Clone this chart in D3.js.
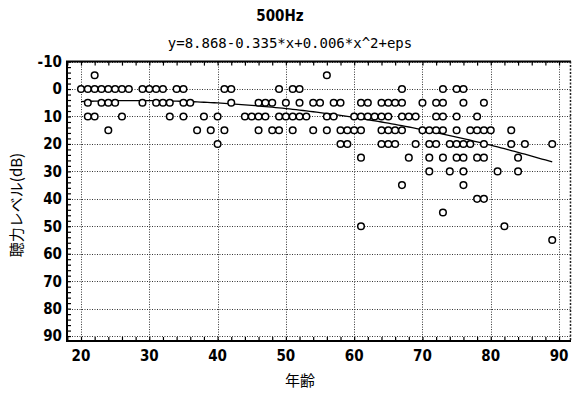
<!DOCTYPE html>
<html><head><meta charset="utf-8">
<script src="https://cdn.jsdelivr.net/npm/d3@7"></script>
<style>
html,body{margin:0;padding:0;background:#fff;}
svg{display:block;}
</style></head>
<body>
<script>
// ---- data ----
const title = "500Hz";
const subtitle = "y=8.868-0.335*x+0.006*x^2+eps";
const xLabel = "年齢";
const yLabel = "聴力レベル(dB)";
const xTicks = [20, 30, 40, 50, 60, 70, 80, 90];
const yTicks = [-10, 0, 10, 20, 30, 40, 50, 60, 70, 80, 90];
const hearingLevels = [-5, 0, 5, 10, 15, 20, 25, 30, 35, 40, 45, 50, 55];
const agesAtLevel = [
  [22, 56],
  [20, 21, 22, 23, 24, 25, 26, 27, 29, 30, 31, 32, 34, 35, 41, 42, 49, 51, 52, 67, 73, 75, 76],
  [21, 23, 24, 25, 29, 31, 32, 33, 35, 36, 42, 46, 47, 48, 50, 52, 54, 55, 57, 58, 61, 62, 64, 65, 66, 67, 70, 72, 73, 76, 79],
  [21, 22, 26, 33, 35, 38, 40, 44, 45, 46, 47, 49, 50, 51, 52, 53, 56, 57, 60, 61, 62, 63, 64, 65, 67, 68, 69, 72, 73, 75, 78],
  [24, 37, 39, 41, 46, 48, 49, 51, 54, 56, 58, 59, 60, 61, 64, 65, 66, 67, 70, 71, 72, 73, 75, 77, 78, 79, 80, 83],
  [40, 58, 59, 64, 65, 66, 69, 71, 72, 74, 75, 76, 77, 79, 83, 85, 89],
  [61, 68, 71, 73, 75, 76, 78, 79, 84],
  [71, 74, 76, 81, 84],
  [67, 76],
  [78, 79],
  [73],
  [61, 82],
  [89]
];
// fitted model coefficients (from subtitle) and fitted age range
const fitCoef = [8.868, -0.335, 0.006];
const fitAgeRange = [20, 89];

// ---- layout ----
const W = 573, H = 396;
const L = 67, R = 571, T = 61.6, B = 341;
const svg = d3.select("body").append("svg").attr("width", W).attr("height", H);

const x = d3.scaleLinear().domain([17.95, 91.75]).range([L, R]);
const y = d3.scaleLinear().domain([-10, 91.8]).range([T, B]);

const fontNum = "'DejaVu Sans Condensed', 'DejaVu Sans', sans-serif";
const fontJP = "'Noto Sans CJK JP', sans-serif";

// grid
const grid = svg.append("g").attr("stroke", "#333").attr("stroke-width", 1).attr("stroke-dasharray", "1,1.5");
grid.selectAll("line.gx").data(xTicks).join("line")
  .attr("x1", d => Math.round(x(d)) + 0.5).attr("x2", d => Math.round(x(d)) + 0.5)
  .attr("y1", T).attr("y2", B);
grid.selectAll("line.gy").data(yTicks).join("line")
  .attr("y1", d => Math.round(y(d)) + 0.5).attr("y2", d => Math.round(y(d)) + 0.5)
  .attr("x1", L).attr("x2", R);

// axes with inward minor ticks
const minorX = d3.range(18, 92, 2);
const minorY = d3.range(-10, 92, 2);
const axB = d3.axisBottom(x).tickValues(minorX).tickSize(-4).tickFormat("");
const axT = d3.axisTop(x).tickValues(minorX).tickSize(-4).tickFormat("");
const axL = d3.axisLeft(y).tickValues(minorY).tickSize(-4).tickFormat("");
[[axB, `translate(0,${B})`], [axT, `translate(0,${T})`], [axL, `translate(${L},0)`]].forEach(([a, tr]) => {
  const g = svg.append("g").attr("transform", tr).call(a);
  g.select(".domain").remove();
  g.selectAll("line").attr("stroke", "#000").attr("stroke-width", 1.2);
});

// frame: solid left/top/bottom, dotted right edge
svg.append("path")
  .attr("d", `M${R},${T}H${L}V${B}H${R}`)
  .attr("fill", "none").attr("stroke", "#000").attr("stroke-width", 2);
svg.append("line").attr("x1", R - 0.5).attr("x2", R - 0.5).attr("y1", T).attr("y2", B)
  .attr("stroke", "#222").attr("stroke-width", 1.5).attr("stroke-dasharray", "2,1.5");

// tick labels
svg.append("g").selectAll("text").data(xTicks).join("text")
  .attr("x", d => x(d)).attr("y", B + 20)
  .attr("text-anchor", "middle")
  .attr("font-family", fontNum).attr("font-weight", "bold").attr("font-size", 15)
  .text(d => d);
svg.append("g").selectAll("text").data(yTicks).join("text")
  .attr("x", L - 5).attr("y", d => y(d)).attr("dy", "0.36em")
  .attr("text-anchor", "end")
  .attr("font-family", fontNum).attr("font-weight", "bold").attr("font-size", 15)
  .text(d => d);

// fitted curve
const fitPts = d3.range(fitAgeRange[0], fitAgeRange[1] + 0.01, 0.5).map(a => [a, fitCoef[0] + fitCoef[1] * a + fitCoef[2] * a * a]);
svg.append("path").datum(fitPts)
  .attr("d", d3.line().x(d => x(d[0])).y(d => y(d[1])))
  .attr("fill", "none").attr("stroke", "#000").attr("stroke-width", 1.3);

// points
const pts = [];
hearingLevels.forEach((lv, i) => agesAtLevel[i].forEach(a => pts.push([a, lv])));
svg.append("g").selectAll("circle").data(pts).join("circle")
  .attr("cx", d => x(d[0])).attr("cy", d => y(d[1])).attr("r", 3.3)
  .attr("fill", "#fff").attr("stroke", "#000").attr("stroke-width", 1.5);

// titles
svg.append("text").attr("x", 280).attr("y", 21).attr("text-anchor", "middle")
  .attr("font-family", fontNum).attr("font-weight", "bold").attr("font-size", 15).text(title);
svg.append("text").attr("x", 290).attr("y", 48).attr("text-anchor", "middle")
  .attr("font-family", "'DejaVu Sans Mono', monospace").attr("font-size", 14).text(subtitle);

// axis titles
svg.append("text").attr("x", 300).attr("y", 386).attr("text-anchor", "middle")
  .attr("font-family", fontJP).attr("font-size", 15).text(xLabel);
svg.append("text").attr("transform", "translate(22,205) rotate(-90)").attr("text-anchor", "middle")
  .attr("font-family", fontJP).attr("font-size", 15).text(yLabel);
</script>
</body></html>
